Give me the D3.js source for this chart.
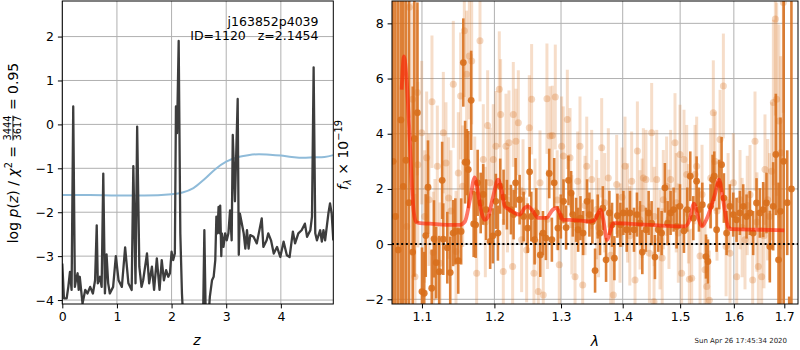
<!DOCTYPE html>
<html>
<head>
<meta charset="utf-8">
<script src="https://cdn.jsdelivr.net/npm/d3@7"></script>
<style>
  body { margin: 0; background: #fff; }
  svg text { font-family: "DejaVu Sans", sans-serif; white-space: pre; }
</style>
</head>
<body>
<svg id="fig" width="800" height="350"></svg>
<script>
// ---- redshift probability, log p(z) ----
const zGrid = [0.00,0.03,0.08,0.11,0.14,0.17,0.20,0.23,0.25,0.28,0.30,0.32,0.37,0.42,0.46,0.51,0.56,0.60,0.63,0.65,0.69,0.72,0.75,0.78,0.81,0.84,0.87,0.93,0.98,1.03,1.09,1.15,1.21,1.27,1.30,1.34,1.37,1.41,1.45,1.48,1.55,1.59,1.64,1.68,1.73,1.78,1.82,1.86,1.90,1.94,1.97,2.00,2.03,2.06,2.08,2.10,2.13,2.16,2.19,2.22,2.30,2.45,2.57,2.60,2.63,2.67,2.70,2.74,2.77,2.80,2.82,2.84,2.86,2.88,2.89,2.91,2.92,2.95,2.98,3.01,3.04,3.07,3.10,3.12,3.16,3.21,3.23,3.25,3.32,3.35,3.38,3.41,3.44,3.50,3.56,3.65,3.68,3.74,3.77,3.82,3.87,3.93,3.99,4.05,4.11,4.16,4.22,4.26,4.32,4.38,4.44,4.48,4.54,4.57,4.60,4.63,4.66,4.72,4.75,4.78,4.81,4.87,4.90,4.93,4.96];
const logPz = [-3.17,-3.96,-3.96,-3.70,-3.36,-3.77,0.41,-3.70,-3.55,-3.39,-3.77,-3.47,-4.08,-3.77,-3.85,-3.70,-3.85,-3.55,-2.30,-3.62,-3.47,-3.70,-1.12,-3.85,-2.96,-3.62,-3.85,-3.70,-3.00,-3.55,-3.70,-2.80,-3.62,-3.77,-0.95,-3.62,-0.05,-3.24,-3.70,-3.55,-2.94,-3.62,-3.24,-3.77,-3.05,-3.77,-3.09,-3.55,-3.32,-3.47,-3.39,-2.90,-3.09,-2.94,0.41,-0.20,1.90,-2.48,-3.85,-4.60,-5.50,-6.00,-5.00,-2.41,-4.80,-4.50,-3.93,-3.55,-3.47,-3.09,-2.10,-2.48,-1.88,-2.48,-1.85,-3.00,-2.48,-2.79,-2.48,-2.64,-2.48,-1.96,-2.64,-0.24,-1.75,0.58,-2.97,-2.03,-2.48,-2.83,-2.41,-2.83,-2.52,-2.56,-2.71,-2.14,-2.79,-2.64,-2.48,-2.64,-2.94,-2.79,-3.02,-2.67,-2.98,-3.02,-2.44,-2.71,-2.48,-2.41,-2.26,-2.56,-2.41,-2.10,1.30,-2.48,-2.64,-2.41,-2.67,-2.41,-2.64,-2.03,-1.80,-2.03,-2.64];

// ---- smooth reference curve (chi2 scaled) ----
const zChi = [0,0.5,1.0,1.5,2.0,2.2,2.4,2.6,2.8,3.0,3.2,3.4,3.6,3.8,4.0,4.2,4.4,4.6,4.8,4.96];
const chiCurve = [-1.61,-1.61,-1.62,-1.62,-1.59,-1.55,-1.45,-1.25,-1.02,-0.85,-0.75,-0.70,-0.68,-0.69,-0.71,-0.74,-0.76,-0.75,-0.74,-0.70];

// ---- spectrum: primary extraction ----
const darkWave = [1.0625,1.0655,1.0690,1.0725,1.0756,1.0790,1.0830,1.0878,1.0900,1.0940,1.1000,1.1030,1.1050,1.1080,1.1130,1.1160,1.1190,1.1230,1.1270,1.1285,1.1340,1.1380,1.1420,1.1450,1.1490,1.1530,1.1560,1.1585,1.1610,1.1630,1.1670,1.1705,1.1733,1.1761,1.1804,1.1840,1.1881,1.1939,1.1978,1.2021,1.2051,1.2084,1.2133,1.2182,1.2241,1.2280,1.2310,1.2369,1.2429,1.2489,1.2519,1.2544,1.2594,1.2620,1.2680,1.2721,1.2766,1.2817,1.2858,1.2894,1.2951,1.2997,1.3039,1.3080,1.3117,1.3159,1.3185,1.3238,1.3270,1.3307,1.3349,1.3413,1.3451,1.3499,1.3543,1.3586,1.3624,1.3670,1.3723,1.3778,1.3822,1.3861,1.3911,1.3961,1.4011,1.4067,1.4123,1.4191,1.4242,1.4294,1.4334,1.4397,1.4443,1.4495,1.4553,1.4611,1.4670,1.4728,1.4776,1.4829,1.4883,1.4937,1.4997,1.5069,1.5129,1.5184,1.5239,1.5300,1.5343,1.5405,1.5473,1.5510,1.5559,1.5597,1.5628,1.5672,1.5722,1.5766,1.5810,1.5861,1.5924,1.5988,1.6052,1.6116,1.6181,1.6246,1.6311,1.6376,1.6442,1.6508,1.6574,1.6640,1.6707,1.6774,1.6828,1.6882,1.6922,1.6986,1.7060,1.7100,1.7146];
const darkFlux = [3.0,1.0,-0.21,4.5,2.09,3.04,1.5,-0.29,3.82,4.76,-1.72,-1.78,0.31,2.06,-1.60,0.19,-0.67,-1.00,2.31,0.18,-0.13,-1.03,0.40,0.46,-0.60,0.46,6.58,2.97,2.97,2.70,5.21,0.73,0.70,2.22,1.49,1.80,1.25,0.10,0.30,1.55,0.40,2.10,1.70,1.43,1.25,1.07,2.22,1.61,1.00,0.58,2.62,1.00,0.16,1.13,-0.39,0.40,0.22,2.56,0.16,2.22,0.58,1.00,1.55,0.60,2.31,1.85,1.07,0.88,0.52,0.94,0.40,1.55,1.07,0.82,-0.96,1.00,0.40,1.30,-0.57,1.13,0.70,-0.51,1.03,0.70,1.13,0.52,1.13,0.52,1.07,0.76,-0.29,0.52,1.13,0.76,-0.47,0.52,0.40,2.04,0.76,1.13,1.25,0.64,1.37,0.48,1.25,2.46,0.94,2.28,1.25,1.43,-0.45,-0.63,1.37,2.34,2.46,0.52,2.16,2.88,1.67,0.40,1.37,1.07,0.88,1.13,1.37,1.00,1.13,0.40,1.49,1.13,1.25,1.49,-0.09,1.37,3.25,-0.57,1.19,3.0,1.5,-5.0,2.0];
const darkErr = [12,12,10,9,9,8,8,6,5,4,1.6,1.5,1.5,1.7,1.4,1.4,1.3,1.3,1.4,1.3,1.3,1.3,1.2,1.2,1.2,1.2,1.6,1.5,1.2,1.4,1.8,1.2,1.2,1.2,1.1,1.1,1.1,1.0,1.0,1.0,1.0,1.0,1.0,0.9,0.9,0.9,0.9,0.9,0.9,0.9,0.9,0.9,0.9,0.9,0.8,0.8,0.8,0.9,0.8,0.9,0.8,0.8,0.8,0.8,0.9,0.8,0.8,0.8,0.8,0.8,0.8,0.8,0.8,0.8,0.8,0.8,0.8,0.8,0.8,0.8,0.8,0.8,0.8,0.8,0.8,0.8,0.8,0.8,0.8,0.8,0.8,0.8,0.8,0.8,0.8,0.8,0.8,0.9,0.8,0.8,0.8,0.8,0.8,0.8,0.8,0.9,0.8,0.9,0.8,0.8,0.8,0.8,0.8,0.9,0.9,0.8,0.9,1.0,0.9,0.8,0.8,0.8,0.8,0.8,0.8,0.8,0.8,0.8,0.9,0.9,1.0,1.1,1.3,1.6,2.2,2.8,3.4,6.0,1.9,3.1,15];

// ---- spectrum: secondary extraction ----
const lightWave = [1.0800,1.0834,1.0877,1.0908,1.0939,1.0945,1.0996,1.1062,1.1093,1.1133,1.1173,1.1205,1.1241,1.1286,1.1322,1.1358,1.1422,1.1459,1.1491,1.1523,1.1551,1.1574,1.1606,1.1644,1.1677,1.1747,1.1794,1.1841,1.1903,1.1937,1.1984,1.2022,1.2071,1.2090,1.2129,1.2168,1.2212,1.2266,1.2276,1.2315,1.2350,1.2399,1.2474,1.2514,1.2549,1.2584,1.2650,1.2676,1.2726,1.2782,1.2829,1.2865,1.2911,1.2973,1.3010,1.3036,1.3099,1.3142,1.3221,1.3263,1.3300,1.3343,1.3408,1.3488,1.3569,1.3651,1.3760,1.3843,1.3899,1.3955,1.4039,1.4083,1.4152,1.4209,1.4249,1.4295,1.4352,1.4397,1.4456,1.4496,1.4537,1.4584,1.4642,1.4700,1.4759,1.4830,1.4908,1.4967,1.4997,1.5027,1.5070,1.5119,1.5167,1.5210,1.5271,1.5301,1.5363,1.5455,1.5487,1.5536,1.5561,1.5610,1.5642,1.5737,1.5800,1.5851,1.5926,1.5990,1.6055,1.6119,1.6216,1.6314,1.6366,1.6412,1.6478,1.6544,1.6610,1.6664,1.6744,1.6778,1.6818,1.6845,1.6892,1.6926,1.6980,
  1.1035,1.1150,1.1390,1.1720,1.1870,1.2190,1.2420,1.2600,1.2790,1.2940,1.3170,1.3380,1.3600,1.3700,1.3800,1.3990,1.4120,1.4330,1.4540,1.4680,1.4800,1.4930,1.5150,1.5400,1.5680,1.5890,1.6160,1.6260,1.6450,1.6590,1.6700];
const lightFlux = [0.64,8.58,5.25,-1.18,5.49,2.88,4.04,3.13,1.61,5.16,0.16,2.82,-0.69,4.04,2.94,1.67,5.79,-0.27,2.58,5.37,2.10,7.73,6.16,6.82,6.64,-1.06,7.37,3.07,4.30,2.22,3.07,3.55,5.61,4.70,-0.99,3.55,3.67,-0.81,4.70,3.73,4.40,0.16,-0.21,4.22,5.25,-1.06,-1.72,2.22,-1.84,5.27,3.92,3.94,5.33,-0.75,3.55,3.19,4.52,3.13,-1.18,2.28,3.55,-1.48,2.82,2.34,1.25,3.49,2.40,-1.84,2.16,0.40,2.82,1.13,2.28,-1.30,3.37,0.88,2.40,2.34,-0.33,4.04,-2.09,2.34,0.16,1.61,2.10,2.34,3.67,0.40,3.25,-1.06,3.07,2.52,-1.27,-1.24,2.52,2.82,-0.43,-0.93,-1.54,-2.03,2.40,4.76,3.00,3.79,5.73,-0.09,-0.33,2.22,-1.18,1.61,0.16,1.79,-1.30,3.73,-0.81,-1.18,2.70,1.61,2.64,5.13,8.16,5.25,4.46,3.31,8.76,
  1.0,-0.3,1.2,1.9,0.8,1.6,1.9,1.2,0.9,1.6,0.7,1.4,0.6,1.5,-0.4,1.7,0.3,1.3,1.0,-0.5,0.9,1.5,1.1,1.8,1.2,1.5,0.6,1.4,0.8,0.3,1.0];
const lightErr = [3.5,4.0,3.5,3.0,3.0,3.0,2.6,2.4,2.4,2.4,2.2,2.2,2.2,2.2,2.2,2.2,2.3,2.2,2.2,2.3,2.2,2.4,2.3,2.3,2.3,2.0,2.2,2.0,2.0,2.0,2.0,2.0,2.1,2.0,1.9,1.9,1.9,1.9,1.9,1.9,1.9,1.9,1.9,1.9,2.0,1.9,1.9,1.9,1.9,2.0,1.8,1.8,1.9,1.8,1.8,1.8,1.8,1.8,1.8,1.8,1.8,1.8,1.8,1.8,1.8,1.8,1.8,1.8,1.8,1.8,1.8,1.8,1.8,1.8,1.8,1.8,1.8,1.8,1.8,1.8,1.8,1.8,1.8,1.8,1.8,1.8,1.8,1.8,1.8,1.8,1.8,1.8,1.8,1.8,1.8,1.8,1.8,1.8,1.8,1.8,1.8,1.9,1.8,1.8,1.9,1.8,1.8,1.8,1.8,1.8,1.8,1.8,1.8,1.8,1.8,1.8,2.0,2.2,2.5,3.0,3.5,3.5,3.5,3.5,4.0,
  2.4,2.2,2.2,2.0,2.0,1.9,1.9,1.9,1.8,1.8,1.8,1.8,1.8,1.8,1.8,1.8,1.8,1.8,1.8,1.8,1.8,1.8,1.8,1.8,1.8,1.8,1.8,1.8,1.8,1.9,2.3];

// ---- best-fit template ----
const modelWave = [1.0735,1.0765,1.0800,1.0843,1.0870,1.0895,1.0925,1.0974,1.1106,1.1331,1.1514,1.1583,1.1653,1.1720,1.1750,1.1817,1.1864,1.1911,1.1982,1.2054,1.2102,1.2150,1.2223,1.2296,1.2370,1.2444,1.2494,1.2569,1.2644,1.2772,1.2874,1.2926,1.2978,1.3030,1.3135,1.3459,1.3540,1.3595,1.3633,1.3677,1.3740,1.3790,1.3840,1.3871,1.4095,1.4665,1.5082,1.5172,1.5251,1.5324,1.5398,1.5478,1.5572,1.5647,1.5717,1.5793,1.5889,1.5953,1.6550,1.7000];
const modelFlux = [5.6,6.8,5.9,3.6,2.0,1.1,0.80,0.76,0.74,0.70,0.70,0.82,1.61,2.42,2.10,1.13,0.88,1.00,1.73,2.34,1.97,1.37,1.25,1.13,1.07,1.31,1.37,1.19,0.95,0.95,1.25,1.31,1.13,0.88,0.88,0.82,0.88,1.13,1.25,0.88,0.15,0.45,0.76,0.76,0.74,0.67,0.64,0.88,1.47,1.00,0.64,0.88,1.37,1.85,2.34,1.61,0.64,0.54,0.52,0.50];

// ---- axis ticks and labels ----
const zTicks = [0, 1, 2, 3, 4];
const pTicks = [-4, -3, -2, -1, 0, 1, 2];
const lamTicks = [1.1, 1.2, 1.3, 1.4, 1.5, 1.6, 1.7];
const fluxTicks = [-2, 0, 2, 4, 6, 8];
const fieldName = "j163852p4039";
const objectLine = "ID=1120   z=2.1454";
const stampText = "Sun Apr 26 17:45:34 2020";

// ================= drawing =================
const svg = d3.select("#fig");
const TICK_FS = 12.5;
const L = { x0: 62.3, x1: 333.3, y0: 1, y1: 304 };
const R = { x0: 392, x1: 798, y0: 1, y1: 304 };

const xz = d3.scaleLinear().domain([0, 4.96]).range([L.x0, L.x1]);
const yp = d3.scaleLinear().domain([-4.09, 2.81]).range([L.y1, L.y0]);
const xl = d3.scaleLog().domain([1.0611, 1.7282]).range([R.x0, R.x1]);
const yf = d3.scaleLinear().domain([-2.17, 8.81]).range([R.y1, R.y0]);

const defs = svg.append("defs");
[["clipL", L], ["clipR", R]].forEach(([id, b]) => {
  defs.append("clipPath").attr("id", id).append("rect")
    .attr("x", b.x0).attr("y", b.y0).attr("width", b.x1 - b.x0).attr("height", b.y1 - b.y0);
});

function grid(x, y, xt, yt, b) {
  const g = svg.append("g").attr("stroke", "#b0b0b0").attr("stroke-width", 1);
  g.selectAll("line.gx").data(xt).join("line")
    .attr("x1", d => x(d)).attr("x2", d => x(d)).attr("y1", b.y0).attr("y2", b.y1);
  g.selectAll("line.gy").data(yt).join("line")
    .attr("x1", b.x0).attr("x2", b.x1).attr("y1", d => y(d)).attr("y2", d => y(d));
}

function axes(x, y, xt, yt, xf, yf_, b) {
  const gx = svg.append("g").attr("transform", `translate(0,${b.y1})`)
    .call(d3.axisBottom(x).tickValues(xt).tickFormat(xf).tickSize(4.4).tickPadding(4));
  const gy = svg.append("g").attr("transform", `translate(${b.x0},0)`)
    .call(d3.axisLeft(y).tickValues(yt).tickFormat(yf_).tickSize(4.4).tickPadding(4));
  [gx, gy].forEach(g => {
    g.select(".domain").remove();
    g.attr("font-family", null).attr("font-size", null);
    g.selectAll("text").attr("font-size", TICK_FS).attr("fill", "#000");
    g.selectAll("line").attr("stroke", "#000").attr("stroke-width", 1);
  });
  svg.append("rect").attr("x", b.x0).attr("y", b.y0)
    .attr("width", b.x1 - b.x0).attr("height", b.y1 - b.y0)
    .attr("fill", "none").attr("stroke", "#000").attr("stroke-width", 1);
}

// ---------- left panel: p(z) ----------
grid(xz, yp, zTicks, pTicks, L);
const gL = svg.append("g").attr("clip-path", "url(#clipL)");
gL.append("path")
  .datum(d3.range(zChi.length))
  .attr("d", d3.line().x(i => xz(zChi[i])).y(i => yp(chiCurve[i])).curve(d3.curveMonotoneX))
  .attr("fill", "none").attr("stroke", "#8fbbd9").attr("stroke-width", 2);
gL.append("path")
  .datum(d3.range(zGrid.length))
  .attr("d", d3.line().x(i => xz(zGrid[i])).y(i => yp(logPz[i])))
  .attr("fill", "none").attr("stroke", "#3d3d3d").attr("stroke-width", 2.3)
  .attr("stroke-linejoin", "round");
axes(xz, yp, zTicks, pTicks, d3.format("d"), d3.format("d"), L);

svg.append("text").attr("x", 318.5).attr("y", 26).attr("text-anchor", "end")
  .attr("font-size", TICK_FS).text(fieldName);
svg.append("text").attr("x", 318.5).attr("y", 40).attr("text-anchor", "end")
  .attr("font-size", TICK_FS).text(objectLine);

// ---------- right panel: spectrum ----------
grid(xl, yf, lamTicks, fluxTicks, R);
const gR = svg.append("g").attr("clip-path", "url(#clipR)");
const ORANGE = "#d86f1c";
const li = d3.range(lightWave.length);
gR.append("g").selectAll("line").data(li).join("line")
  .attr("x1", i => xl(lightWave[i])).attr("x2", i => xl(lightWave[i]))
  .attr("y1", i => yf(lightFlux[i] - lightErr[i])).attr("y2", i => yf(lightFlux[i] + lightErr[i]))
  .attr("stroke", ORANGE).attr("stroke-opacity", 0.24).attr("stroke-width", 3);
gR.append("g").selectAll("circle").data(li).join("circle")
  .attr("cx", i => xl(lightWave[i])).attr("cy", i => yf(lightFlux[i])).attr("r", 3.5)
  .attr("fill", ORANGE).attr("fill-opacity", 0.28);

const di = d3.range(darkWave.length);
gR.append("g").selectAll("line").data(di).join("line")
  .attr("x1", i => xl(darkWave[i])).attr("x2", i => xl(darkWave[i]))
  .attr("y1", i => yf(darkFlux[i] - darkErr[i])).attr("y2", i => yf(darkFlux[i] + darkErr[i]))
  .attr("stroke", ORANGE).attr("stroke-opacity", 0.88).attr("stroke-width", 2.6);
gR.append("g").selectAll("circle").data(di).join("circle")
  .attr("cx", i => xl(darkWave[i])).attr("cy", i => yf(darkFlux[i])).attr("r", 3.4)
  .attr("fill", ORANGE).attr("fill-opacity", 0.9);

gR.append("path")
  .datum(d3.range(modelWave.length))
  .attr("d", d3.line().x(i => xl(modelWave[i])).y(i => yf(modelFlux[i])).curve(d3.curveMonotoneX))
  .attr("fill", "none").attr("stroke", "#ff1a00").attr("stroke-opacity", 0.6)
  .attr("stroke-width", 3.8).attr("stroke-linejoin", "round");

gR.append("line").attr("x1", R.x0).attr("x2", R.x1).attr("y1", yf(0)).attr("y2", yf(0))
  .attr("stroke", "#000").attr("stroke-width", 2).attr("stroke-dasharray", "2,2.6");

axes(xl, yf, lamTicks, fluxTicks, d3.format(".1f"), d3.format("d"), R);

// ---------- axis titles ----------
svg.append("text").attr("x", 197).attr("y", 345).attr("text-anchor", "middle")
  .attr("font-size", 14).attr("font-style", "italic").text("z");
svg.append("text").attr("x", 595).attr("y", 346).attr("text-anchor", "middle")
  .attr("font-size", 14).attr("font-style", "italic").text("λ");

// left vertical title with a stacked fraction
(function () {
  const FS = 14, SFS = 9.8;
  const g = svg.append("g");
  const t1 = g.append("text").attr("font-size", FS).attr("x", 0).attr("y", 0);
  t1.append("tspan").text("log ");
  t1.append("tspan").attr("font-style", "italic").text("p");
  t1.append("tspan").text("(");
  t1.append("tspan").attr("font-style", "italic").text("z");
  t1.append("tspan").text(") / ");
  t1.append("tspan").attr("font-style", "italic").text("χ");
  t1.append("tspan").attr("font-size", SFS).attr("dy", -5.5).text("2");
  t1.append("tspan").attr("dy", 5.5).text(" = ");
  const wA = t1.node().getComputedTextLength();
  const num = g.append("text").attr("font-size", SFS).attr("text-anchor", "middle").attr("y", -6.8).text("3444");
  const den = g.append("text").attr("font-size", SFS).attr("text-anchor", "middle").attr("y", 3.6).text("3617");
  const fw = Math.max(num.node().getComputedTextLength(), den.node().getComputedTextLength()) + 2;
  num.attr("x", wA + fw / 2);
  den.attr("x", wA + fw / 2);
  g.append("line").attr("x1", wA + 1).attr("x2", wA + fw - 1).attr("y1", -4.6).attr("y2", -4.6)
    .attr("stroke", "#000").attr("stroke-width", 0.8);
  const t3 = g.append("text").attr("font-size", FS).attr("x", wA + fw).attr("y", 0).text(" = 0.95");
  const W = wA + fw + t3.node().getComputedTextLength();
  g.attr("transform", `translate(17.5,${153 + W / 2}) rotate(-90)`);
})();

// right vertical title
(function () {
  const FS = 14, SFS = 9.8;
  const t = svg.append("text").attr("font-size", FS).attr("text-anchor", "middle")
    .attr("transform", "translate(347.5,155) rotate(-90)");
  t.append("tspan").attr("font-style", "italic").text("f");
  t.append("tspan").attr("font-style", "italic").attr("font-size", SFS).attr("dy", 3).text("λ");
  t.append("tspan").attr("dy", -3).text(" × 10");
  t.append("tspan").attr("font-size", SFS).attr("dy", -5.5).text("−19");
})();

svg.append("text").attr("x", 787).attr("y", 343).attr("text-anchor", "end")
  .attr("font-size", 7).attr("fill", "#222").text(stampText);
</script>
</body>
</html>
